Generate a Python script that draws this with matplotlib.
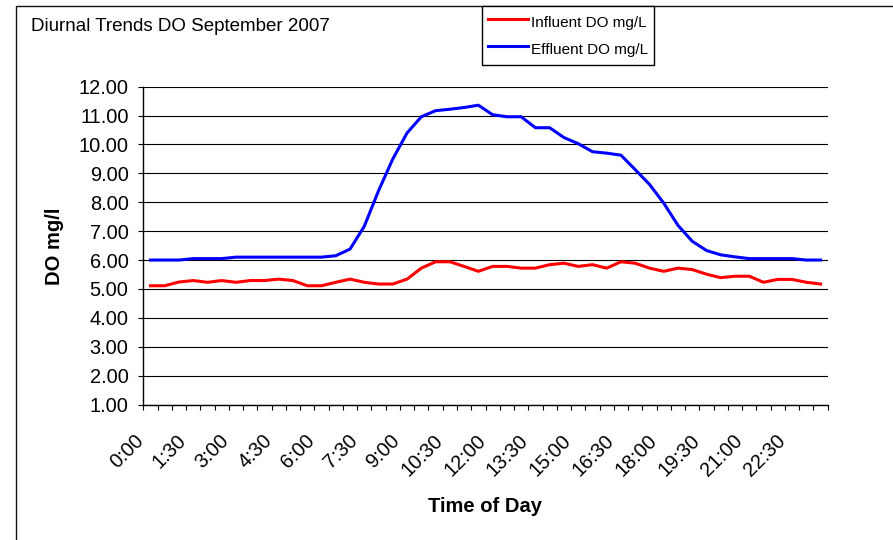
import matplotlib
matplotlib.use("Agg")
import matplotlib.pyplot as plt
from matplotlib.patches import Rectangle
from matplotlib.ticker import FixedLocator, FuncFormatter
from matplotlib.transforms import ScaledTranslation

# ---- data ----
times = ["0:00", "0:30", "1:00", "1:30", "2:00", "2:30", "3:00", "3:30",
         "4:00", "4:30", "5:00", "5:30", "6:00", "6:30", "7:00", "7:30",
         "8:00", "8:30", "9:00", "9:30", "10:00", "10:30", "11:00", "11:30",
         "12:00", "12:30", "13:00", "13:30", "14:00", "14:30", "15:00", "15:30",
         "16:00", "16:30", "17:00", "17:30", "18:00", "18:30", "19:00", "19:30",
         "20:00", "20:30", "21:00", "21:30", "22:00", "22:30", "23:00", "23:30"]

influent = [5.11, 5.11, 5.24, 5.29, 5.23, 5.29, 5.23, 5.29, 5.29, 5.34, 5.29, 5.11,
            5.11, 5.23, 5.34, 5.23, 5.17, 5.17, 5.34, 5.72, 5.94, 5.94, 5.78, 5.61,
            5.78, 5.78, 5.72, 5.72, 5.84, 5.89, 5.78, 5.84, 5.72, 5.94, 5.89, 5.72,
            5.61, 5.72, 5.67, 5.51, 5.39, 5.44, 5.44, 5.23, 5.33, 5.33, 5.23, 5.17]

effluent = [6.00, 6.00, 6.00, 6.05, 6.05, 6.05, 6.10, 6.10, 6.10, 6.10, 6.10, 6.10,
            6.10, 6.15, 6.38, 7.17, 8.40, 9.50, 10.40, 10.96, 11.17, 11.22, 11.28, 11.36,
            11.03, 10.96, 10.96, 10.58, 10.58, 10.24, 10.03, 9.75, 9.70, 9.63, 9.13, 8.62,
            7.97, 7.20, 6.65, 6.33, 6.18, 6.11, 6.05, 6.05, 6.05, 6.05, 6.00, 6.00]

series_names = ["Influent DO mg/L", "Effluent DO mg/L"]
y_ticks = [1, 2, 3, 4, 5, 6, 7, 8, 9, 10, 11, 12]
label_every = 3

plt.rcParams['font.family'] = ['Liberation Sans', 'DejaVu Sans']

W, H = 893, 540
fig = plt.figure(figsize=(W / 100, H / 100), dpi=100, facecolor='white')

# chart-area border (extends beyond the right/bottom edges)
fig.patches.append(Rectangle((16 / W, -0.05), 1.1, 1 - 6 / H + 0.05,
                             transform=fig.transFigure, fill=False,
                             edgecolor='#111111', linewidth=1.0, zorder=0))

left, right, top, bottom = 143.3, 827.7, 86.7, 404.5
ax = fig.add_axes([left / W, 1 - bottom / H, (right - left) / W, (bottom - top) / H])

x = list(range(len(times)))
l1, = ax.plot(x, influent, color='#FF0000', lw=2.2, zorder=3, solid_joinstyle='round')
l2, = ax.plot(x, effluent, color='#0000FF', lw=2.2, zorder=3, solid_joinstyle='round')

ax.set_xlim(-0.5, len(times) - 0.5)
ax.set_ylim(y_ticks[0], y_ticks[-1])

ax.set_yticks(y_ticks)
ax.yaxis.set_major_formatter(FuncFormatter(lambda v, p: f"{v:.2f}"))
ax.tick_params(axis='y', direction='out', length=3.6, width=0.8, pad=7,
               labelsize=14.4, colors='black')
ax.yaxis.grid(True, color='black', lw=0.8, zorder=1)

label_pos = x[::label_every]
ax.set_xticks(label_pos)
ax.set_xticklabels([times[i] for i in label_pos], rotation=45, ha='right',
                   va='center', rotation_mode='anchor')
ax.xaxis.set_minor_locator(FixedLocator([i - 0.5 for i in range(len(times) + 1)]))
ax.tick_params(axis='x', which='major', length=0, pad=24, labelsize=14.4)
ax.tick_params(axis='x', which='minor', direction='out', length=3.6, width=0.8)
shift = ScaledTranslation(-10 / 100, 0, fig.dpi_scale_trans)
for lab in ax.get_xticklabels():
    lab.set_transform(lab.get_transform() + shift)

for s in ['top', 'right']:
    ax.spines[s].set_visible(False)
for s in ['left', 'bottom']:
    ax.spines[s].set_color('black')
    ax.spines[s].set_linewidth(1.0)

fig.text(31 / W, 1 - 31 / H, "Diurnal Trends DO September 2007",
         fontsize=13.5, ha='left', va='baseline')
fig.text(55 / W, 1 - 246 / H, "DO mg/l", rotation=90, fontsize=14.5,
         fontweight='bold', ha='center', va='center')
fig.text(485.5 / W, 1 - 507 / H, "Time of Day", fontsize=14.5,
         fontweight='bold', ha='center', va='center')

leg = fig.legend([l1, l2], series_names, loc='upper left',
                 bbox_to_anchor=(482 / W, 1 - 6 / H), borderaxespad=0,
                 fancybox=False, edgecolor='black', framealpha=1,
                 prop={'size': 11},
                 handlelength=2.6, handleheight=1.67, handletextpad=0.25,
                 labelspacing=0.42, borderpad=0.38)
leg.get_frame().set_linewidth(1.0)

fig.savefig("out.png", dpi=100, facecolor='white')
